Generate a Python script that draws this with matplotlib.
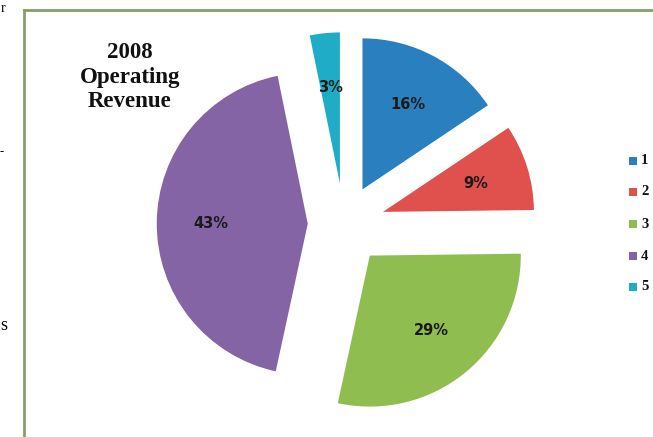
import matplotlib.pyplot as plt
from matplotlib.patches import Rectangle

# ================== DATA ==================
segments = ["1", "2", "3", "4", "5"]
shares = [15.6, 9.2, 28.6, 43.4, 3.2]
colors = ["#2a7fbf", "#e0504d", "#8fbd50", "#8464a4", "#1eacc6"]
explode = [0.26, 0.27, 0.27, 0.24, 0.27]
title_lines = ["2008", "Operating", "Revenue"]

# ================== FIGURE ==================
W, H, DPI = 653, 437, 100
cx, cy, R = 344, 224, 151  # pie centre / radius in px

fig = plt.figure(figsize=(W / DPI, H / DPI), dpi=DPI)
fig.patch.set_facecolor("white")
ax = fig.add_axes([0, 0, 1, 1])

wedges, texts, autotexts = ax.pie(
    shares, colors=colors, explode=explode, startangle=90, counterclock=False,
    autopct="%1.0f%%", pctdistance=0.64, radius=1.0,
    wedgeprops=dict(linewidth=0),
    textprops=dict(fontsize=10.5, fontweight="bold", color="#1a1a1a",
                   family="DejaVu Sans"))

ax.set_xlim(-cx / R, (W - cx) / R)
ax.set_ylim(-(H - cy) / R, cy / R)
ax.set_aspect("auto")
ax.axis("off")

# ================== FRAME ==================
frame_col = "#8a9e6a"
fig.add_artist(plt.Line2D([24 / W, 24 / W], [0, 1 - 10 / H], color=frame_col,
                          lw=2, transform=fig.transFigure))
fig.add_artist(plt.Line2D([24 / W, 1], [1 - 10 / H, 1 - 10 / H], color=frame_col,
                          lw=2, transform=fig.transFigure))

# cut-off text on the left edge
fig.text(1 / W, 1 - 9 / H, "r", fontsize=10, family="Liberation Serif", va="center")
fig.text(0, 1 - 325 / H, "s", fontsize=13, family="Liberation Serif", va="center")
fig.text(0, 1 - 152 / H, "-", fontsize=9, family="Liberation Serif", va="center")

# ================== TITLE ==================
fig.text(130 / W, 1 - 77 / H, "\n".join(title_lines), ha="center", va="center",
         fontsize=16.5, fontweight="bold", family="Liberation Serif",
         linespacing=1.22, color="#111111")

# ================== LEGEND ==================
leg_y = [161, 192, 224, 256, 287]
for lab, col, y in zip(segments, colors, leg_y):
    fig.add_artist(Rectangle((629 / W, 1 - (y + 4) / H), 8 / W, 8 / H,
                             facecolor=col, edgecolor="none",
                             transform=fig.transFigure))
    fig.text(641 / W, 1 - y / H, lab, ha="left", va="center", fontsize=10.5,
             fontweight="bold", family="Liberation Serif", color="#111111")

fig.savefig("out.png", dpi=DPI, facecolor="white")
